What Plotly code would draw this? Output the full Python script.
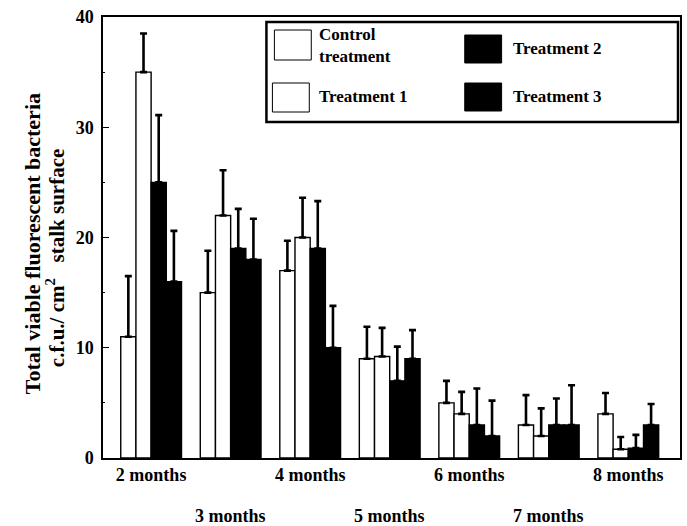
import plotly.graph_objects as go

# ---- data ----
months = [2, 3, 4, 5, 6, 7, 8]
month_labels = ["2 months", "3 months", "4 months", "5 months", "6 months", "7 months", "8 months"]

control = [11.0, 15.0, 17.0, 9.0, 5.0, 3.0, 4.0]
control_err = [5.5, 3.8, 2.7, 2.9, 2.0, 2.7, 1.9]

treat1 = [35.0, 22.0, 20.0, 9.2, 4.0, 2.0, 0.8]
treat1_err = [3.5, 4.1, 3.6, 2.6, 2.0, 2.5, 1.1]

treat2 = [25.0, 19.0, 19.0, 7.0, 3.0, 3.0, 0.9]
treat2_err = [6.1, 3.6, 4.3, 3.1, 3.3, 2.4, 1.2]

treat3 = [16.0, 18.0, 10.0, 9.0, 2.0, 3.0, 3.0]
treat3_err = [4.6, 3.7, 3.8, 2.6, 3.2, 3.6, 1.9]

series_names = ["Control treatment", "Treatment 1", "Treatment 2", "Treatment 3"]
y_ticks = [0, 10, 20, 30, 40]

FONT = "Liberation Serif"
W, H = 687, 526
L, R, T, B = 103, 5, 17, 68
PW, PH = W - L - R, H - T - B

def px(xp):
    return (xp - L) / PW

def py(yp):
    return (H - B - yp) / PH

fig = go.Figure()
fills = ["white", "white", "black", "black"]
for name, vals, errs, fill in zip(series_names, [control, treat1, treat2, treat3],
                                  [control_err, treat1_err, treat2_err, treat3_err], fills):
    fig.add_trace(go.Bar(
        x=months, y=vals, name=name,
        marker=dict(color=fill, line=dict(color="black", width=1.4)),
        error_y=dict(type="data", array=errs, symmetric=False,
                     arrayminus=[0] * len(errs),
                     color="black", thickness=2.6, width=3.5),
        showlegend=False,
    ))

fig.update_layout(
    width=W, height=H,
    margin=dict(l=L, r=R, t=T, b=B),
    paper_bgcolor="white", plot_bgcolor="white",
    barmode="group", bargap=0.236, bargroupgap=0,
    font=dict(family=FONT, color="black"),
)

even = [m for m in months if m % 2 == 0]
fig.update_xaxes(
    range=[1.395, 8.65],
    tickvals=even,
    ticktext=[month_labels[months.index(m)] for m in even],
    tickfont=dict(family=FONT, size=18, color="black", weight="bold"),
    ticks="", showgrid=False, zeroline=False,
    showline=True, linecolor="black", linewidth=1.5, mirror=True,
    ticklabelstandoff=0,
)
fig.update_yaxes(
    range=[0, 40],
    tickvals=y_ticks,
    tickfont=dict(family=FONT, size=18, color="black", weight="bold"),
    ticks="inside", ticklen=6, tickwidth=1.2, tickcolor="black",
    minor=dict(dtick=5, ticks="inside", ticklen=2, tickwidth=1, tickcolor="black"),
    showgrid=False, zeroline=False,
    showline=True, linecolor="black", linewidth=1.5, mirror=True,
    ticklabelstandoff=4,
)

annotations = []
# second row of month labels (odd months)
for m, lab in zip(months, month_labels):
    if m % 2 == 1:
        annotations.append(dict(
            x=m, xref="x", y=py(516), yref="paper", text=lab, showarrow=False,
            xanchor="center", yanchor="middle",
            font=dict(family=FONT, size=18, color="black", weight="bold")))

# y-axis title (two lines)
annotations.append(dict(
    x=px(32), xref="paper", y=py(244), yref="paper",
    text="Total viable fluorescent bacteria", textangle=-90, showarrow=False,
    xanchor="center", yanchor="middle",
    font=dict(family=FONT, size=22, color="black", weight="bold")))
annotations.append(dict(
    x=px(55), xref="paper", y=py(258), yref="paper",
    text="c.f.u./ cm<sup>2</sup>\u00a0\u00a0 stalk surface", textangle=-90, showarrow=False,
    xanchor="center", yanchor="middle",
    font=dict(family=FONT, size=21, color="black", weight="bold")))

# legend text
leg_font = dict(family=FONT, size=17, color="black", weight="bold")
for txt, xp, yp in [("Control<br>treatment", 318, 45),
                    ("Treatment 1", 318, 96), ("Treatment 2", 512, 48),
                    ("Treatment 3", 512, 96)]:
    annotations.append(dict(x=px(xp), xref="paper", y=py(yp), yref="paper",
                            text=txt, showarrow=False, xanchor="left", align="left",
                            yanchor="middle", font=leg_font))
fig.update_layout(annotations=annotations)

# legend box and swatches
shapes = [
    dict(type="rect", xref="paper", yref="paper", x0=px(267), x1=px(680),
         y0=py(122), y1=py(22), line=dict(color="black", width=2.5),
         fillcolor="white", layer="above"),
]
for x0, x1, y0, y1, fill in [(275, 312, 30, 60, "white"), (273, 310, 83, 112, "white"),
                             (466, 503, 35, 63, "black"), (466, 503, 83, 111, "black")]:
    shapes.append(dict(type="rect", xref="paper", yref="paper", x0=px(x0), x1=px(x1),
                       y0=py(y1), y1=py(y0), line=dict(color="black", width=1),
                       fillcolor=fill, layer="above"))
fig.update_layout(shapes=shapes)

fig.write_html("out.html", config={"displayModeBar": False},
               post_script="document.body.style.margin='0';document.body.style.overflow='hidden';")
